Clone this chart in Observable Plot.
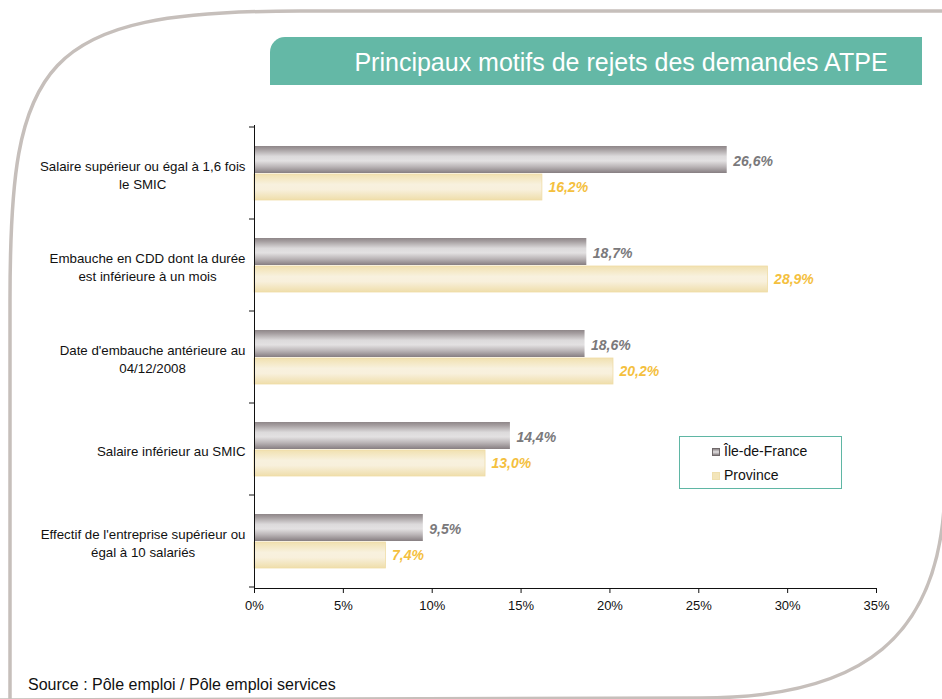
<!DOCTYPE html>
<html>
<head>
<meta charset="utf-8">
<script src="https://cdn.jsdelivr.net/npm/d3@7"></script>
<script src="https://cdn.jsdelivr.net/npm/@observablehq/plot@0.6"></script>
<style>
  body { margin: 0; background: #fff; font-family: "Liberation Sans", Arial, sans-serif; }
  #wrap { position: relative; width: 942px; height: 699px; overflow: hidden; background: #fff; }
  #bg { position: absolute; left: 0; top: 0; pointer-events: none; }
  #title { position: absolute; left: 270px; top: 37px; width: 652px; height: 48px; box-sizing: border-box;
           background: #64b8a6; border-top-left-radius: 15px; color: #fff; font-size: 25px;
           line-height: 50px; text-align: center; padding-left: 50px; white-space: nowrap; }
  #chart { position: absolute; left: 0; top: 0; }
  #legend { position: absolute; left: 679px; top: 436px; width: 163px; height: 53px; box-sizing: border-box;
            border: 1px solid #5fb6a4; background: #fff; font-size: 14px; color: #111; }
  .item { position: absolute; left: 32px; height: 18px; line-height: 18px; white-space: nowrap; }
  .sw { display: inline-block; width: 8px; height: 8px; margin-right: 4px; vertical-align: 0px; box-sizing: border-box; }
  #source { position: absolute; left: 28px; top: 676px; font-size: 16px; line-height: 18px; color: #111; white-space: nowrap; }
</style>
</head>
<body>
<div id="wrap">
  <div id="chart"></div>
  <svg id="bg" width="942" height="699">
    <path d="M 950 11 L 300 11 C 40 11 10 60 10 300 L 10 710" fill="none" stroke="#c6bfbb" stroke-width="3.5"/>
    <path d="M 945 400 L 945 480 C 945 640 860 698 700 698 L 0 700" fill="none" stroke="#c6bfbb" stroke-width="3.5"/>
  </svg>
  <div id="title">Principaux motifs de rejets des demandes ATPE</div>
  <div id="legend"></div>
  <div id="source">Source : Pôle emploi / Pôle emploi services</div>
</div>
<script>
// ---- data ----
const categories = [
  "Salaire supérieur ou égal à 1,6 fois\nle SMIC",
  "Embauche en CDD dont la durée\nest inférieure à un mois",
  "Date d'embauche antérieure au\n04/12/2008",
  "Salaire inférieur au SMIC",
  "Effectif de l'entreprise supérieur ou\négal à 10 salariés"
];
const seriesNames = ["Île-de-France", "Province"];
const ileDeFrance = [26.6, 18.7, 18.6, 14.4, 9.5];
const province = [16.2, 28.9, 20.2, 13.0, 7.4];
const xTicks = [0, 5, 10, 15, 20, 25, 30, 35];

const idfRows = categories.map((c, i) => ({category: c, value: ileDeFrance[i]}));
const provRows = categories.map((c, i) => ({category: c, value: province[i]}));
const fmt = v => v.toFixed(1).replace(".", ",") + "%";

const FONT = '"Liberation Sans", Arial, sans-serif';
const LABEL_SIZE = 13.3;
const ctx = document.createElement("canvas").getContext("2d");
ctx.font = `${LABEL_SIZE}px ${FONT}`;
const blockWidth = s => d3.max(s.split("\n"), line => ctx.measureText(line).width);

const defsMark = () => {
  const defs = d3.create("svg:defs");
  defs.html(`
    <linearGradient id="gIdf" x1="0" y1="0" x2="0" y2="1">
      <stop offset="0" stop-color="#8e8688"/>
      <stop offset="0.12" stop-color="#a49d9f"/>
      <stop offset="0.38" stop-color="#dcdadb"/>
      <stop offset="0.55" stop-color="#e3e1e2"/>
      <stop offset="0.78" stop-color="#b8b2b4"/>
      <stop offset="1" stop-color="#867e81"/>
    </linearGradient>
    <linearGradient id="gProv" x1="0" y1="0" x2="0" y2="1">
      <stop offset="0" stop-color="#f1e1b0"/>
      <stop offset="0.4" stop-color="#f8f1de"/>
      <stop offset="0.6" stop-color="#f8f0dc"/>
      <stop offset="1" stop-color="#efdeab"/>
    </linearGradient>`);
  return defs.node();
};

// category labels: block right-aligned next to the axis, lines centred inside the block
const labelMarks = categories.map(c => Plot.text([c], {
  y: d => d, text: d => d, frameAnchor: "left", textAnchor: "middle",
  dx: -9 - blockWidth(c) / 2, dy: 1, lineHeight: 1.34, fontSize: LABEL_SIZE, fill: "#111"
}));

const plot = Plot.plot({
  width: 942,
  height: 699,
  marginLeft: 254,
  marginRight: 66,
  marginTop: 125,
  marginBottom: 111,
  style: {fontFamily: FONT, fontSize: "13px", background: "transparent", color: "#111"},
  x: {domain: [0, 35], label: null},
  y: {domain: categories, padding: 0, axis: null},
  marks: [
    defsMark,
    Plot.barX(idfRows, {x: "value", y: "category", fill: "url(#gIdf)", insetTop: 19, insetBottom: 46}),
    Plot.barX(provRows, {x: "value", y: "category", fill: "url(#gProv)", stroke: "#efdca6", strokeWidth: 0.8, insetTop: 47, insetBottom: 19}),
    Plot.text(idfRows, {x: "value", y: "category", text: d => fmt(d.value), textAnchor: "start", dx: 6, dy: -12,
      fill: "#7a797b", fontWeight: "bold", fontStyle: "italic", fontSize: 14}),
    Plot.text(provRows, {x: "value", y: "category", text: d => fmt(d.value), textAnchor: "start", dx: 6, dy: 14,
      fill: "#f4c03e", fontWeight: "bold", fontStyle: "italic", fontSize: 14}),
    ...labelMarks,
    Plot.ruleX([0], {stroke: "#111"}),
    Plot.frame({anchor: "bottom", stroke: "#111"}),
    Plot.axisX({ticks: xTicks, tickFormat: d => d + "%", tickSize: 5, tickPadding: 7, fontSize: 13, stroke: "#111", fill: "#111"})
  ]
});
document.getElementById("chart").appendChild(plot);

// tick marks at the category boundaries on the vertical axis
const ys = plot.scale("y"), xs = plot.scale("x");
const x0 = xs.apply(0);
const bounds = ys.domain.map(d => ys.apply(d));
bounds.push(ys.apply(ys.domain[ys.domain.length - 1]) + ys.bandwidth);
d3.select(plot).append("g").selectAll("line").data(bounds).join("line")
  .attr("x1", x0 - 5).attr("x2", x0).attr("y1", d => d).attr("y2", d => d)
  .attr("stroke", "#111");

// legend
const legend = d3.select("#legend");
const swatch = [
  {bg: "linear-gradient(#8e8688, #e2e0e1 50%, #867e81)", border: "1px solid #6f6869"},
  {bg: "#f3e5ba", border: "1px solid #efdfae"}
];
seriesNames.forEach((name, i) => {
  const it = legend.append("div").attr("class", "item").style("top", (i === 0 ? 5 : 29) + "px");
  it.append("span").attr("class", "sw").style("background", swatch[i].bg).style("border", swatch[i].border);
  it.append("span").text(name);
});
</script>
</body>
</html>
